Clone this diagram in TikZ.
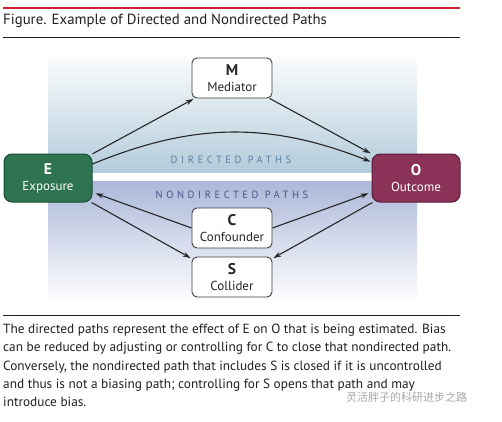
\documentclass[tikz,border=0pt]{standalone}
\usepackage{fontspec}
\setmainfont{PT Sans}
\newfontfamily\cjk{Noto Sans CJK SC}
\usetikzlibrary{arrows.meta}

\definecolor{rulered}{HTML}{D3202F}
\definecolor{inkgray}{HTML}{231F20}
\definecolor{dirblue}{HTML}{B3CCDB}
\definecolor{nondirblue}{HTML}{ABB8D9}
\definecolor{dirtext}{HTML}{5B82A0}
\definecolor{nondirtext}{HTML}{46568A}
\definecolor{expgreen}{HTML}{2E7451}
\definecolor{expborder}{HTML}{1C4A34}
\definecolor{outmaroon}{HTML}{8A3257}
\definecolor{outborder}{HTML}{5C1E3A}

\newcommand{\varletter}[1]{{\fontsize{15.5}{16}\selectfont\bfseries #1}}

\tikzset{
	varbox/.style={draw=black!75,fill=white,rounded corners=5pt,line width=0.9pt,
		minimum width=80pt,minimum height=40pt,align=center,text=black!85,
		font=\fontsize{13}{16}\selectfont},
	mainbox/.style={rounded corners=8pt,line width=1pt,minimum width=88pt,
		minimum height=48pt,align=center,text=white,font=\fontsize{13}{16}\selectfont},
	pathlabel/.style={font=\fontsize{10.5}{12}\selectfont\addfontfeature{LetterSpace=34}}
}

\begin{document}
\begin{tikzpicture}[x=1pt,y=-1pt]
	\useasboundingbox (0,0) rectangle (502,421);
	% header and footer rules
	\draw[rulered,line width=2.5pt] (3,8) -- (460,8);
	\node[anchor=west,inner sep=0,text=inkgray,font=\fontsize{14.8}{17}\selectfont] (title) at (3,21) {Figure. Example of Directed and Nondirected Paths};
	\draw[inkgray,line width=0.8pt] (3,37) -- (460,37);
	\draw[inkgray,line width=0.8pt] (3,315) -- (460,315);

	% background bands
	\shade[top color=white,bottom color=dirblue] (48,50) rectangle (417,172);
	\shade[top color=nondirblue,bottom color=white] (48,181) rectangle (417,302);
	\node[pathlabel,text=dirtext] (dirlabel) at (231,160) {DIRECTED PATHS};
	\node[pathlabel,text=nondirtext] (nondirlabel) at (232,195) {NONDIRECTED PATHS};

	\begin{scope}
		\node[mainbox,fill=expgreen,draw=expborder] (E) at (48,178) {\varletter{E}\\Exposure};
		\node[mainbox,fill=outmaroon,draw=outborder] (O) at (416,178) {\varletter{O}\\Outcome};
		\node[varbox] (M) at (232,78) {\varletter{M}\\Mediator};
		\node[varbox] (C) at (232,228) {\varletter{C}\\Confounder};
		\node[varbox] (S) at (232,277) {\varletter{S}\\Collider};
	\end{scope}
	\begin{scope}[>={Stealth[length=8pt,width=5pt]},
			every edge/.style={draw=black!85,line width=1.1pt,shorten >=1pt}]
		\path [->] (E) edge (M);
		\path [->] (M) edge (O);
		\path [->] ([yshift=14pt]E.east) edge[bend left=22] ([yshift=16pt]O.west);
		\path [->] (C.west) edge ([yshift=-15pt,xshift=2pt]E.east);
		\path [->] (C.east) edge ([yshift=-15pt,xshift=-2pt]O.west);
		\path [->] (E) edge ([yshift=-2pt]S.north west);
		\path [->] (O) edge ([yshift=-2pt]S.north east);
	\end{scope}

	% caption
	\node[anchor=north west,inner sep=0,align=left,text=inkgray,
		font=\fontsize{13.3}{18.2}\selectfont] (caption) at (3,324)
		{The directed paths represent the effect of E on O that is being estimated. Bias\\
		can be reduced by adjusting or controlling for C to close that nondirected path.\\
		Conversely, the nondirected path that includes S is closed if it is uncontrolled\\
		and thus is not a biasing path; controlling for S opens that path and may\\
		introduce bias.};
	\node[anchor=west,inner sep=0,text=black!35,font=\cjk\fontsize{11}{13}\selectfont] (mark) at (346,397) {灵活胖子的科研进步之路};
\end{tikzpicture}
\end{document}
